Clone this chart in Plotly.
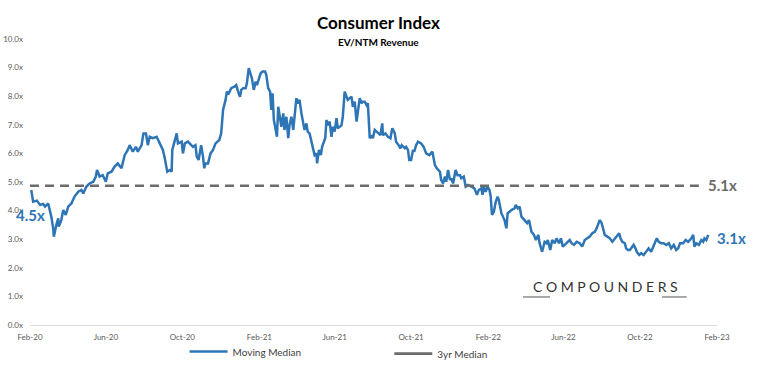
import plotly.graph_objects as go

dates = [
"2020-02-03","2020-02-06","2020-02-12","2020-02-17","2020-02-22","2020-02-25","2020-03-01","2020-03-03","2020-03-06","2020-03-09",
"2020-03-10","2020-03-14","2020-03-17","2020-03-18","2020-03-22","2020-03-25","2020-03-29","2020-04-02","2020-04-07","2020-04-12",
"2020-04-18","2020-04-23","2020-04-26","2020-05-01","2020-05-06","2020-05-12","2020-05-16","2020-05-18","2020-05-22","2020-05-27",
"2020-06-01","2020-06-04","2020-06-10","2020-06-15","2020-06-20","2020-06-26","2020-07-01","2020-07-06","2020-07-09","2020-07-14",
"2020-07-19","2020-07-22","2020-07-28","2020-07-31","2020-08-04","2020-08-07","2020-08-10","2020-08-15","2020-08-21","2020-08-26",
"2020-08-31","2020-09-03","2020-09-07","2020-09-11","2020-09-14","2020-09-15","2020-09-19","2020-09-22","2020-09-24","2020-09-30",
"2020-10-02","2020-10-05","2020-10-10","2020-10-13","2020-10-18","2020-10-22","2020-10-24","2020-10-27","2020-10-31","2020-11-03",
"2020-11-05","2020-11-07","2020-11-11","2020-11-15","2020-11-19","2020-11-23","2020-11-29","2020-12-02","2020-12-05","2020-12-09",
"2020-12-11","2020-12-14","2020-12-18","2020-12-23","2020-12-26","2020-12-29","2021-01-01","2021-01-03","2021-01-06","2021-01-10",
"2021-01-12","2021-01-15","2021-01-18","2021-01-20","2021-01-23","2021-01-26","2021-01-28","2021-01-31","2021-02-03","2021-02-06",
"2021-02-10","2021-02-12","2021-02-15","2021-02-18","2021-02-20","2021-02-22","2021-02-24","2021-02-27","2021-03-01","2021-03-03",
"2021-03-05","2021-03-08","2021-03-11","2021-03-13","2021-03-16","2021-03-19","2021-03-21","2021-03-24","2021-03-27","2021-03-29",
"2021-04-01","2021-04-03","2021-04-06","2021-04-09","2021-04-11","2021-04-14","2021-04-17","2021-04-19","2021-04-22","2021-04-25",
"2021-04-27","2021-04-30","2021-05-03","2021-05-04","2021-05-07","2021-05-10","2021-05-12","2021-05-15","2021-05-17","2021-05-19",
"2021-05-21","2021-05-24","2021-05-27","2021-05-29","2021-06-01","2021-06-04","2021-06-06","2021-06-09","2021-06-12","2021-06-14",
"2021-06-17","2021-06-20","2021-06-22","2021-06-25","2021-06-28","2021-06-30","2021-07-03","2021-07-06","2021-07-08","2021-07-11",
"2021-07-14","2021-07-16","2021-07-19","2021-07-22","2021-07-24","2021-07-27","2021-07-30","2021-08-01","2021-08-04","2021-08-09",
"2021-08-13","2021-08-16","2021-08-17","2021-08-21","2021-08-25","2021-08-29","2021-09-01","2021-09-05","2021-09-07","2021-09-11",
"2021-09-14","2021-09-16","2021-09-21","2021-09-23","2021-09-26","2021-09-28","2021-10-01","2021-10-04","2021-10-06","2021-10-09",
"2021-10-12","2021-10-17","2021-10-21","2021-10-25","2021-10-30","2021-11-04","2021-11-08","2021-11-11","2021-11-16","2021-11-18",
"2021-11-21","2021-11-24","2021-11-26","2021-11-29","2021-12-02","2021-12-04","2021-12-07","2021-12-11","2021-12-14","2021-12-18",
"2021-12-20","2021-12-24","2021-12-27","2021-12-31","2022-01-05","2022-01-10","2022-01-14","2022-01-17","2022-01-21","2022-01-23",
"2022-01-25","2022-01-28","2022-01-31","2022-02-03","2022-02-05","2022-02-07","2022-02-10","2022-02-13","2022-02-16","2022-02-18",
"2022-02-22","2022-02-25","2022-02-27","2022-03-02","2022-03-04","2022-03-07","2022-03-10","2022-03-15","2022-03-17","2022-03-20",
"2022-03-23","2022-03-26","2022-03-31","2022-04-04","2022-04-07","2022-04-11","2022-04-15","2022-04-18","2022-04-22","2022-04-24",
"2022-04-28","2022-05-02","2022-05-05","2022-05-07","2022-05-11","2022-05-14","2022-05-18","2022-05-21","2022-05-25","2022-05-28",
"2022-05-31","2022-06-03","2022-06-07","2022-06-11","2022-06-14","2022-06-18","2022-06-22","2022-06-27","2022-07-01","2022-07-05",
"2022-07-09","2022-07-13","2022-07-17","2022-07-21","2022-07-24","2022-07-26","2022-07-29","2022-08-01","2022-08-03","2022-08-06",
"2022-08-10","2022-08-14","2022-08-18","2022-08-22","2022-08-25","2022-08-29","2022-08-31","2022-09-03","2022-09-07","2022-09-09",
"2022-09-12","2022-09-15","2022-09-17","2022-09-21","2022-09-24","2022-09-26","2022-09-30","2022-10-03","2022-10-07","2022-10-11",
"2022-10-15","2022-10-19","2022-10-23","2022-10-26","2022-10-28","2022-10-31","2022-11-04","2022-11-08","2022-11-12","2022-11-16",
"2022-11-20","2022-11-24","2022-11-28","2022-12-01","2022-12-04","2022-12-09","2022-12-13","2022-12-17","2022-12-22","2022-12-25",
"2022-12-27","2022-12-30","2023-01-03","2023-01-07","2023-01-10","2023-01-12","2023-01-15","2023-01-18",
]

moving_median = [
4.72,4.31,4.35,4.20,4.23,4.14,4.25,4.08,3.79,3.38,
3.09,3.50,3.73,3.44,3.67,4.02,3.85,4.14,4.25,4.49,
4.66,4.72,4.60,4.84,4.95,5.01,5.19,5.42,5.19,5.24,
5.01,5.30,5.36,5.54,5.65,5.48,5.94,6.12,6.29,6.06,
6.23,6.06,6.29,6.70,6.70,6.29,6.58,6.53,6.58,6.35,
6.12,5.83,5.36,5.42,5.36,6.12,6.41,6.70,6.35,6.41,
6.00,6.35,6.41,6.35,6.23,6.29,5.89,5.77,6.29,5.89,
5.48,5.65,5.65,6.00,6.12,6.35,6.47,6.70,7.52,7.87,
8.16,8.10,8.28,8.33,8.39,8.16,7.98,8.22,8.28,8.28,
8.45,8.98,8.80,8.63,8.22,8.51,8.39,8.63,8.80,8.86,
8.86,8.74,8.28,8.16,7.52,8.10,7.17,6.82,6.58,7.63,
7.28,6.93,7.40,6.82,7.28,6.53,6.99,7.28,6.82,7.23,
7.93,7.75,7.87,7.40,7.11,6.82,7.05,6.76,6.70,6.41,
6.12,5.94,6.00,5.65,6.12,5.94,6.23,6.41,6.53,7.17,
6.99,7.11,6.58,6.93,6.76,7.23,6.88,6.93,6.99,7.28,
8.16,7.98,7.87,7.93,7.98,7.63,7.81,7.11,7.52,7.93,
7.75,7.81,7.81,7.69,7.75,6.53,6.64,6.53,6.82,6.70,
6.64,7.05,6.64,6.70,6.58,6.53,6.88,6.70,6.41,6.29,
6.18,6.29,6.18,6.23,6.12,5.77,5.77,6.12,6.06,6.29,
6.41,6.35,6.23,6.00,5.94,6.06,5.59,5.48,5.36,5.07,
4.95,5.19,5.01,5.42,5.07,5.13,4.95,5.42,5.24,5.24,
5.13,5.19,4.84,4.90,4.84,4.78,4.55,4.72,4.78,4.55,
4.84,4.66,4.84,4.72,4.49,3.85,3.96,4.31,4.49,4.37,
3.91,3.79,3.67,3.38,3.91,3.96,4.02,4.08,4.20,4.08,
4.14,3.79,3.67,3.56,3.67,3.26,3.15,2.97,3.15,2.86,
2.56,2.91,2.86,2.97,2.62,2.97,2.86,3.03,2.86,3.03,
2.74,2.80,2.86,2.97,2.86,2.80,2.91,2.86,2.74,2.97,
3.03,3.09,3.21,3.26,3.38,3.50,3.67,3.56,3.38,3.15,
3.09,3.03,2.91,3.03,3.09,3.21,3.03,2.91,2.86,2.68,
2.62,2.62,2.68,2.80,2.68,2.56,2.45,2.51,2.45,2.56,
2.68,2.56,2.80,2.97,3.03,2.91,2.86,2.86,2.80,2.86,
2.68,2.80,2.62,2.68,2.86,2.86,2.97,2.91,3.03,3.15,
2.74,2.86,2.80,2.97,2.91,3.03,2.97,3.15,
]

median_3yr = 4.87
median_dates = ["2020-02-01", "2023-01-03"]

tick_dates = ["2020-02-01","2020-06-01","2020-10-01","2021-02-01","2021-06-01","2021-10-01",
              "2022-02-01","2022-06-01","2022-10-01","2023-02-01"]
tick_labels = ["Feb-20","Jun-20","Oct-20","Feb-21","Jun-21","Oct-21","Feb-22","Jun-22","Oct-22","Feb-23"]

BLUE = "#2e75b6"
GRAY = "#6b6b6b"
FONT = "Lato"

fig = go.Figure()
fig.add_trace(go.Scatter(x=dates, y=moving_median, mode="lines", name="Moving Median",
                         line=dict(color=BLUE, width=2.5), legend="legend"))
fig.add_trace(go.Scatter(x=median_dates, y=[median_3yr]*2, mode="lines", name="3yr Median",
                         line=dict(color=GRAY, width=2.6, dash="9px,6px"), showlegend=False))
fig.add_trace(go.Scatter(x=[None], y=[None], mode="lines", name="3yr Median",
                         line=dict(color=GRAY, width=2.6), legend="legend2"))

fig.update_layout(
    width=757, height=372,
    margin=dict(l=30, r=40, t=39, b=47, autoexpand=False),
    paper_bgcolor="white", plot_bgcolor="white",
    font=dict(family=FONT, color="#595959", size=8),
    xaxis=dict(type="date", range=["2020-02-01", "2023-02-01"], tickvals=tick_dates, ticktext=tick_labels,
               showgrid=False, zeroline=False, showline=True, linecolor="#d9d9d9", linewidth=1,
               ticks="", tickfont=dict(size=8, color="#595959"), automargin=False,
               ticklabelstandoff=4),
    yaxis=dict(range=[0, 10], dtick=1, tickformat=".1f", ticksuffix="x", showgrid=False,
               zeroline=False, showline=False, ticks="", tickfont=dict(size=8, color="#595959"),
               ticklabelstandoff=6, automargin=False),
    legend=dict(x=0.225, y=-0.093, xanchor="left", yanchor="middle", orientation="h",
                itemwidth=38, font=dict(size=10, color="#404040"), bgcolor="rgba(0,0,0,0)"),
    legend2=dict(x=0.523, y=-0.10, xanchor="left", yanchor="middle", orientation="h",
                 itemwidth=38, font=dict(size=10, color="#404040"), bgcolor="rgba(0,0,0,0)"),
    showlegend=True,
)

annotations = [
    dict(text="<b>Consumer Index</b>", xref="paper", yref="paper", x=0.5066, y=1.059,
         xanchor="center", yanchor="middle", showarrow=False,
         font=dict(size=17, color="black", family=FONT)),
    dict(text="<b>EV/NTM Revenue</b>", xref="paper", yref="paper", x=0.5066, y=0.99,
         xanchor="center", yanchor="middle", showarrow=False,
         font=dict(size=10, color="black", family=FONT)),
    dict(text="<b>4.5x</b>", x="2020-02-01", y=3.85, xref="x", yref="y", showarrow=False,
         xanchor="center", yanchor="middle", font=dict(size=15, color=BLUE, family=FONT)),
    dict(text="<b>5.1x</b>", xref="paper", yref="y", x=1.0087, y=4.9, showarrow=False,
         xanchor="center", yanchor="middle", font=dict(size=15, color=GRAY, family=FONT)),
    dict(text="<b>3.1x</b>", xref="paper", yref="y", x=1.0204, y=3.04, showarrow=False,
         xanchor="center", yanchor="middle", font=dict(size=15, color=BLUE, family=FONT)),
    dict(text="C O M P O U N D E R S", xref="paper", yref="paper", x=0.838, y=0.133,
         xanchor="center", yanchor="middle", showarrow=False,
         font=dict(size=14, color="#333333", family=FONT)),
]
fig.update_layout(annotations=annotations)

fig.update_layout(shapes=[
    dict(type="line", xref="paper", yref="paper", x0=0.7176, x1=0.757, y0=0.098, y1=0.098,
         line=dict(color="#555555", width=1)),
    dict(type="line", xref="paper", yref="paper", x0=0.92, x1=0.956, y0=0.098, y1=0.098,
         line=dict(color="#555555", width=1)),
])

fig.write_html("out.html", config={"displayModeBar": False},
               post_script="document.body.style.margin='0';")
